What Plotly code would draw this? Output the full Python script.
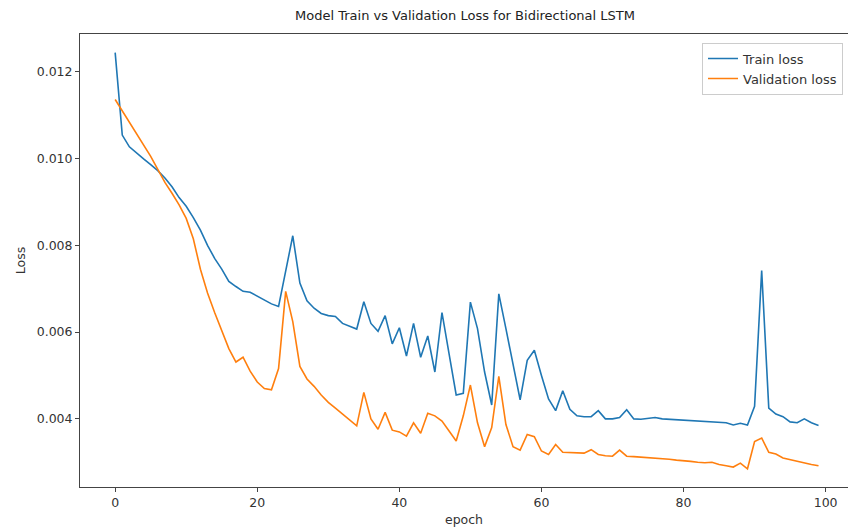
import plotly.graph_objects as go

epochs = list(range(100))

train_loss = [
    0.01244, 0.01054, 0.01027, 0.01012, 0.00999, 0.00986, 0.00972, 0.00955, 0.00935, 0.00910,
    0.00890, 0.00864, 0.00835, 0.00800, 0.00770, 0.00745, 0.00717, 0.00705, 0.00694, 0.00692,
    0.00683, 0.00673, 0.00665, 0.00659, 0.00740, 0.00822, 0.00713, 0.00672, 0.00655, 0.00643,
    0.00638, 0.00636, 0.00620, 0.00613, 0.00607, 0.00670, 0.00620, 0.00602, 0.00638, 0.00573,
    0.00610, 0.00545, 0.00620, 0.00542, 0.00591, 0.00508, 0.00645, 0.00550, 0.00455, 0.00459,
    0.00669, 0.00608, 0.00508, 0.00432, 0.00688, 0.00608, 0.00523, 0.00444, 0.00535, 0.00558,
    0.00500, 0.00446, 0.00419, 0.00465, 0.00422, 0.00407, 0.00405, 0.00405, 0.00419, 0.00400,
    0.00400, 0.00403, 0.00421, 0.00400, 0.00399, 0.00401, 0.00403, 0.00400, 0.00399, 0.00398,
    0.00398, 0.00397, 0.00396, 0.00395, 0.00394, 0.00393, 0.00391, 0.00386, 0.00390, 0.00386,
    0.00429, 0.00742, 0.00425, 0.00411, 0.00405, 0.00393, 0.00391, 0.00400, 0.00391, 0.00385,
]

val_loss = [
    0.01136, 0.01110, 0.01085, 0.01058, 0.01032, 0.01005, 0.00975, 0.00945, 0.00920, 0.00893,
    0.00862, 0.00815, 0.00745, 0.00690, 0.00645, 0.00602, 0.00562, 0.00531, 0.00542, 0.00510,
    0.00485, 0.00470, 0.00467, 0.00516, 0.00694, 0.00624, 0.00521, 0.00492, 0.00475, 0.00455,
    0.00438, 0.00425, 0.00411, 0.00397, 0.00384, 0.00461, 0.00400, 0.00376, 0.00415, 0.00374,
    0.00370, 0.00360, 0.00391, 0.00367, 0.00413, 0.00407, 0.00395, 0.00372, 0.00349, 0.00407,
    0.00478, 0.00391, 0.00336, 0.00380, 0.00498, 0.00387, 0.00336, 0.00328, 0.00364, 0.00359,
    0.00326, 0.00318, 0.00341, 0.00323, 0.00322, 0.00321, 0.00321, 0.00329, 0.00318, 0.00315,
    0.00314, 0.00328, 0.00314, 0.00313, 0.00312, 0.00311, 0.00310, 0.00308, 0.00307, 0.00305,
    0.00304, 0.00302, 0.00300, 0.00299, 0.00300, 0.00295, 0.00292, 0.00289, 0.00298, 0.00285,
    0.00348, 0.00356, 0.00323, 0.00319, 0.00310, 0.00306, 0.00302, 0.00299, 0.00295, 0.00292,
]

x_ticks = [0, 20, 40, 60, 80, 100]
y_ticks = [0.004, 0.006, 0.008, 0.010, 0.012]
y_tick_text = ["0.004", "0.006", "0.008", "0.010", "0.012"]

FONT = "DejaVu Sans, Liberation Sans, sans-serif"
TXT = "#333333"

fig = go.Figure()
fig.add_trace(go.Scatter(x=epochs, y=train_loss, mode="lines", name="Train loss",
                         line=dict(color="#1f77b4", width=1.6)))
fig.add_trace(go.Scatter(x=epochs, y=val_loss, mode="lines", name="Validation loss",
                         line=dict(color="#ff7f0e", width=1.6)))

fig.update_layout(
    width=848, height=532,
    margin=dict(l=80, r=0, t=34, b=45),
    paper_bgcolor="white", plot_bgcolor="white",
    font=dict(family=FONT, size=12.5, color=TXT),
    title=dict(text="Model Train vs Validation Loss for Bidirectional LSTM",
               x=465 / 848, xanchor="center", y=1 - 15 / 532, yanchor="middle",
               font=dict(family=FONT, size=13, color="#222222")),
    showlegend=True,
    legend=dict(x=0.9935, xanchor="right", y=0.981, yanchor="top",
                bgcolor="rgba(255,255,255,0.9)", bordercolor="#cccccc", borderwidth=1,
                font=dict(family=FONT, size=13, color=TXT),
                tracegroupgap=0, itemwidth=30),
    xaxis=dict(range=[-4.95, 103.15], tickvals=x_ticks, ticks="outside", ticklen=4,
               tickcolor="#444444", showgrid=False, zeroline=False,
               showline=True, linecolor="#444444", linewidth=1, mirror=True,
               tickfont=dict(size=12.5),
               title=dict(text="epoch", standoff=6, font=dict(family=FONT, size=12.5, color=TXT))),
    yaxis=dict(range=[0.00243, 0.01287], tickvals=y_ticks, ticktext=y_tick_text,
               ticks="outside", ticklen=4, tickcolor="#444444", showgrid=False, zeroline=False,
               showline=True, linecolor="#444444", linewidth=1, mirror=True,
               tickfont=dict(size=12.5),
               title=dict(text="Loss", standoff=8, font=dict(family=FONT, size=12.5, color=TXT))),
)

fig.write_html("out.html")
